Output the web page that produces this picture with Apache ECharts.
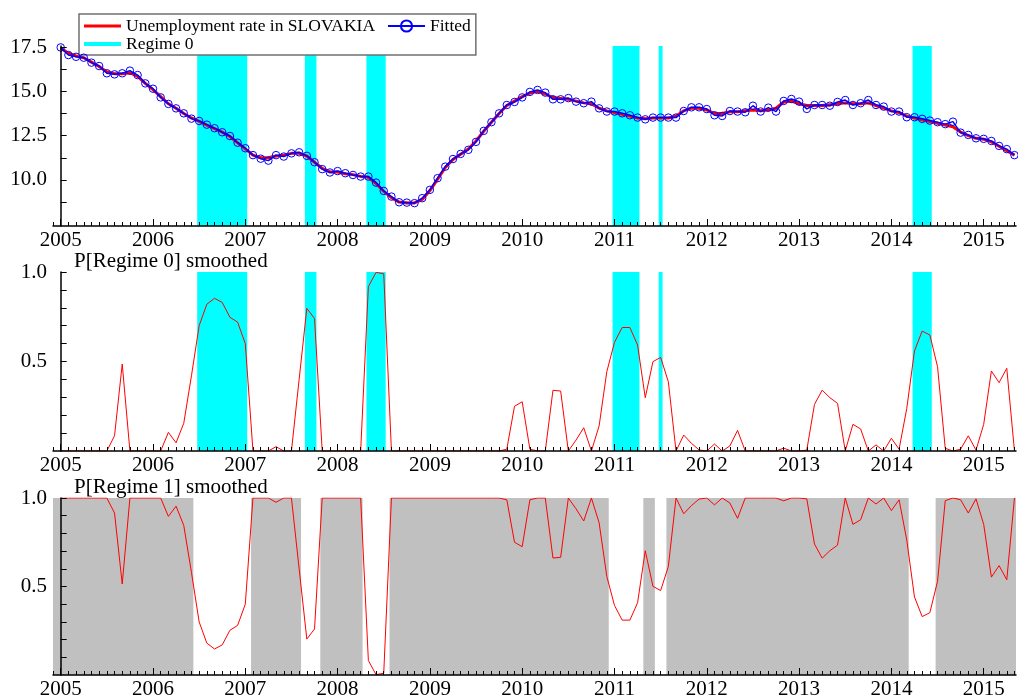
<!DOCTYPE html>
<html>
<head>
<meta charset="utf-8">
<title>Unemployment rate in SLOVAKIA - regimes</title>
<script src="https://cdn.jsdelivr.net/npm/echarts@6/dist/echarts.min.js"></script>
<style>
  html, body { margin: 0; padding: 0; background: #fff; }
  #chartdiv { width: 1018px; height: 700px; }
</style>
</head>
<body>
<div id="chartdiv"></div>
<script>
// monthly data, 2005-01 .. 2015-05 (index 0 = 2005-01)
const FIRST_YEAR = 2005;
const YEARS = [2005, 2006, 2007, 2008, 2009, 2010, 2011, 2012, 2013, 2014, 2015];

const unemployment = [
  17.45, 17.15, 17.0, 16.9, 16.65, 16.4, 16.1, 16.0, 16.0, 16.05, 15.85, 15.45,
  15.1, 14.7, 14.3, 14.05, 13.75, 13.5, 13.3, 13.1, 12.9, 12.7, 12.45, 12.1,
  11.75, 11.4, 11.25, 11.25, 11.35, 11.4, 11.5, 11.5, 11.35, 11.0, 10.65, 10.45,
  10.45, 10.35, 10.3, 10.2, 10.15, 9.8, 9.35, 9.0, 8.75, 8.7, 8.7, 8.9,
  9.4, 10.05, 10.7, 11.15, 11.45, 11.75, 12.2, 12.75, 13.25, 13.75, 14.2, 14.45,
  14.7, 14.9, 15.0, 14.85, 14.65, 14.6, 14.55, 14.45, 14.35, 14.3, 14.05, 13.9,
  13.8, 13.7, 13.6, 13.5, 13.45, 13.5, 13.5, 13.5, 13.6, 13.9, 14.05, 14.05,
  13.95, 13.75, 13.75, 13.85, 13.85, 13.9, 13.95, 13.9, 13.95, 14.05, 14.4, 14.45,
  14.3, 14.2, 14.2, 14.2, 14.25, 14.3, 14.35, 14.3, 14.3, 14.35, 14.2, 14.05,
  13.9, 13.8, 13.6, 13.5, 13.4, 13.3, 13.2, 13.1, 13.0, 12.7, 12.5, 12.35,
  12.3, 12.15, 11.9, 11.65, 11.4
];

const fitted = [
  17.48, 17.05, 16.95, 16.9, 16.62, 16.43, 16.02, 15.96, 16.02, 16.17, 15.92, 15.45,
  15.15, 14.66, 14.29, 14.04, 13.76, 13.46, 13.33, 13.12, 12.92, 12.69, 12.48, 12.10,
  11.79, 11.40, 11.20, 11.09, 11.40, 11.32, 11.50, 11.56, 11.36, 11.00, 10.61, 10.42,
  10.50, 10.38, 10.28, 10.19, 10.19, 9.85, 9.38, 9.06, 8.74, 8.72, 8.69, 8.97,
  9.44, 10.10, 10.75, 11.18, 11.47, 11.70, 12.15, 12.77, 13.26, 13.76, 14.23, 14.40,
  14.66, 14.97, 15.08, 14.93, 14.55, 14.55, 14.62, 14.42, 14.33, 14.42, 14.04, 13.86,
  13.86, 13.76, 13.65, 13.52, 13.42, 13.52, 13.52, 13.52, 13.52, 13.89, 14.10, 14.10,
  14.00, 13.65, 13.61, 13.89, 13.86, 13.82, 14.19, 13.86, 14.08, 13.86, 14.46, 14.57,
  14.42, 14.01, 14.23, 14.23, 14.19, 14.40, 14.51, 14.23, 14.33, 14.51, 14.23, 14.14,
  13.86, 13.86, 13.54, 13.54, 13.45, 13.35, 13.26, 13.15, 13.29, 12.67, 12.54, 12.35,
  12.32, 12.20, 11.92, 11.74, 11.40
];

const pRegime0 = [
  0, 0, 0, 0, 0, 0, 0, 0.085, 0.486, 0, 0, 0,
  0, 0, 0.104, 0.046, 0.155, 0.42, 0.70, 0.82, 0.853, 0.83, 0.747, 0.72,
  0.60, 0, 0, 0, 0.024, 0, 0, 0.40, 0.797, 0.74, 0, 0,
  0, 0, 0, 0, 0.918, 0.998, 0.99, 0, 0, 0, 0, 0,
  0, 0, 0, 0, 0, 0, 0, 0, 0, 0, 0.01, 0.25,
  0.275, 0.01, 0, 0, 0.339, 0.335, 0, 0.061, 0.13, 0, 0.14, 0.443,
  0.607, 0.69, 0.69, 0.592, 0.298, 0.499, 0.523, 0.387, 0, 0.089, 0.043, 0.006,
  0, 0.039, 0, 0.028, 0.115, 0, 0, 0, 0, 0, 0.016, 0,
  0, 0.005, 0.26, 0.34, 0.298, 0.266, 0, 0.149, 0.123, 0, 0.034, 0,
  0.071, 0.01, 0.238, 0.559, 0.67, 0.648, 0.471, 0.015, 0, 0.01, 0.085, 0.005,
  0.149, 0.447, 0.382, 0.462, 0
];

const pRegime1 = [
  1, 1, 1, 1, 1, 1, 1, 0.915, 0.514, 1, 1, 1,
  1, 1, 0.896, 0.954, 0.845, 0.58, 0.30, 0.18, 0.147, 0.17, 0.253, 0.28,
  0.40, 1, 1, 1, 0.976, 1, 1, 0.60, 0.203, 0.26, 1, 1,
  1, 1, 1, 1, 0.082, 0.002, 0.01, 1, 1, 1, 1, 1,
  1, 1, 1, 1, 1, 1, 1, 1, 1, 1, 0.99, 0.75,
  0.725, 0.99, 1, 1, 0.661, 0.665, 1, 0.939, 0.87, 1, 0.86, 0.557,
  0.393, 0.31, 0.31, 0.408, 0.702, 0.501, 0.477, 0.613, 1, 0.911, 0.957, 0.994,
  1, 0.961, 1, 0.972, 0.885, 1, 1, 1, 1, 1, 0.984, 1,
  1, 0.995, 0.74, 0.66, 0.702, 0.734, 1, 0.851, 0.877, 1, 0.966, 1,
  0.929, 0.99, 0.762, 0.441, 0.33, 0.352, 0.529, 0.985, 1, 0.99, 0.915, 0.995,
  0.851, 0.553, 0.618, 0.538, 1
];

// [first month, last month] of each classified regime period
const regime0Spans = [[18, 24], [32, 33], [40, 42], [72, 75], [78, 78], [111, 113]];
const regime1Spans = [[0, 17], [25, 31], [34, 39], [43, 71], [76, 77], [79, 110], [114, 124]];

const topLabels = [10.0, 12.5, 15.0, 17.5];
const topTicks = [8.75, 10.0, 11.25, 12.5, 13.75, 15.0, 16.25, 17.5];
const probLabels = [0.5, 1.0];
const probTicks = [0.1, 0.2, 0.3, 0.4, 0.5, 0.6, 0.7, 0.8, 0.9, 1.0];

const FONT = "Liberation Serif";
const X_MIN = -1;
const X_MAX = 124.2;
const lastIdx = unemployment.length - 1;

const pairs = arr => arr.map((v, i) => [i, v]);
const yearTicks = YEARS.map(y => (y - FIRST_YEAR) * 12);
const monthTicks = [];
for (let m = X_MIN; m <= lastIdx; m++) monthTicks.push(m);

function spanAreas(spans) {
  return spans.map(([a, b]) => [
    { xAxis: a === 0 ? X_MIN : a - 0.25 },
    { xAxis: b === lastIdx ? X_MAX : b + 0.25 }
  ]);
}

const grids = [
  { left: 53, right: 2, top: 46, height: 180 },
  { left: 53, right: 2, top: 272, height: 179 },
  { left: 53, right: 2, top: 498, height: 179 }
];

// axes sit above the shaded regime areas so the ticks stay visible
function yearAxis(g) {
  return {
    type: 'value', gridIndex: g, min: X_MIN, max: X_MAX, position: 'bottom', z: 10,
    axisLine: { show: true, lineStyle: { color: '#000', width: 1.5 } },
    axisTick: { inside: true, length: 7, customValues: yearTicks, lineStyle: { color: '#000' } },
    axisLabel: {
      customValues: yearTicks, margin: 4,
      fontFamily: FONT, fontSize: 21, color: '#000',
      formatter: v => String(FIRST_YEAR + Math.round(v / 12))
    },
    splitLine: { show: false }
  };
}
function monthAxis(g) {
  return {
    type: 'value', gridIndex: g, min: X_MIN, max: X_MAX, position: 'bottom', offset: 0, z: 10,
    axisLine: { show: false },
    axisTick: { show: true, inside: true, length: 4, customValues: monthTicks, lineStyle: { color: '#000' } },
    axisLabel: { show: false },
    splitLine: { show: false }
  };
}
function yAxis(g, min, max, labels, ticks) {
  return {
    type: 'value', gridIndex: g, min: min, max: max, z: 10,
    axisLine: { show: true, lineStyle: { color: '#000', width: 1.5 } },
    axisTick: { show: true, inside: true, length: 6, customValues: ticks, lineStyle: { color: '#000' } },
    axisLabel: {
      customValues: labels, margin: 6,
      fontFamily: FONT, fontSize: 21, color: '#000',
      formatter: v => v.toFixed(1)
    },
    splitLine: { show: false }
  };
}

const chart = echarts.init(document.getElementById('chartdiv'));

const option = {
  animation: false,
  backgroundColor: '#fff',
  title: [
    { text: 'P[Regime 0] smoothed', left: 74, top: 251,
      textStyle: { fontFamily: FONT, fontSize: 21, fontWeight: 'normal', color: '#000' }, padding: 0 },
    { text: 'P[Regime 1] smoothed', left: 74, top: 477,
      textStyle: { fontFamily: FONT, fontSize: 21, fontWeight: 'normal', color: '#000' }, padding: 0 }
  ],
  legend: {
    left: 79, top: 14, width: 420,
    orient: 'horizontal',
    data: [
      { name: 'Unemployment rate in SLOVAKIA', icon: 'path://M0,0H37V3H0Z',
        textStyle: { padding: [0, 12, 0, 0] } },
      'Fitted',
      { name: 'Regime 0', icon: 'path://M0,0H37V4H0Z' }
    ],
    itemWidth: 37, itemHeight: 14, itemGap: 0, itemTextGap: 6,
    padding: [3, 5, 2, 5],
    backgroundColor: '#fff',
    borderColor: '#707070', borderWidth: 1.5, borderRadius: 0,
    textStyle: { fontFamily: FONT, fontSize: 17.5, color: '#000', lineHeight: 18 }
  },
  grid: grids,
  xAxis: [yearAxis(0), monthAxis(0), yearAxis(1), monthAxis(1), yearAxis(2), monthAxis(2)],
  yAxis: [
    yAxis(0, 7.4, 17.56, topLabels, topTicks),
    yAxis(1, 0, 1, probLabels, probTicks),
    yAxis(2, 0, 1, probLabels, probTicks)
  ],
  series: [
    {
      name: 'Regime 0', type: 'line', xAxisIndex: 0, yAxisIndex: 0, z: 1,
      data: [], symbol: 'none',
      itemStyle: { color: '#00ffff' }, lineStyle: { color: '#00ffff', width: 4 },
      markArea: { silent: true, itemStyle: { color: '#00ffff' }, data: spanAreas(regime0Spans) }
    },
    {
      name: 'Unemployment rate in SLOVAKIA', type: 'line', xAxisIndex: 0, yAxisIndex: 0, z: 3,
      data: pairs(unemployment), symbol: 'none',
      itemStyle: { color: '#ff0000' }, lineStyle: { color: '#ff0000', width: 3 }
    },
    {
      name: 'Fitted', type: 'line', xAxisIndex: 0, yAxisIndex: 0, z: 4,
      data: pairs(fitted), symbol: 'circle', symbolSize: 7.5, showAllSymbol: true,
      itemStyle: { color: 'rgba(0,0,0,0)', borderColor: '#0000ff', borderWidth: 1 },
      lineStyle: { color: '#0000ff', width: 1.5 }
    },
    {
      name: 'regime0 smoothed', type: 'line', xAxisIndex: 2, yAxisIndex: 1, z: 3,
      data: pairs(pRegime0), symbol: 'none',
      lineStyle: { color: '#ff0000', width: 1 },
      markArea: { silent: true, itemStyle: { color: '#00ffff' }, data: spanAreas(regime0Spans) }
    },
    {
      name: 'regime1 smoothed', type: 'line', xAxisIndex: 4, yAxisIndex: 2, z: 3,
      data: pairs(pRegime1), symbol: 'none',
      lineStyle: { color: '#ff0000', width: 1 },
      markArea: { silent: true, itemStyle: { color: '#c0c0c0' }, data: spanAreas(regime1Spans) }
    }
  ]
};

chart.setOption(option);
</script>
</body>
</html>
